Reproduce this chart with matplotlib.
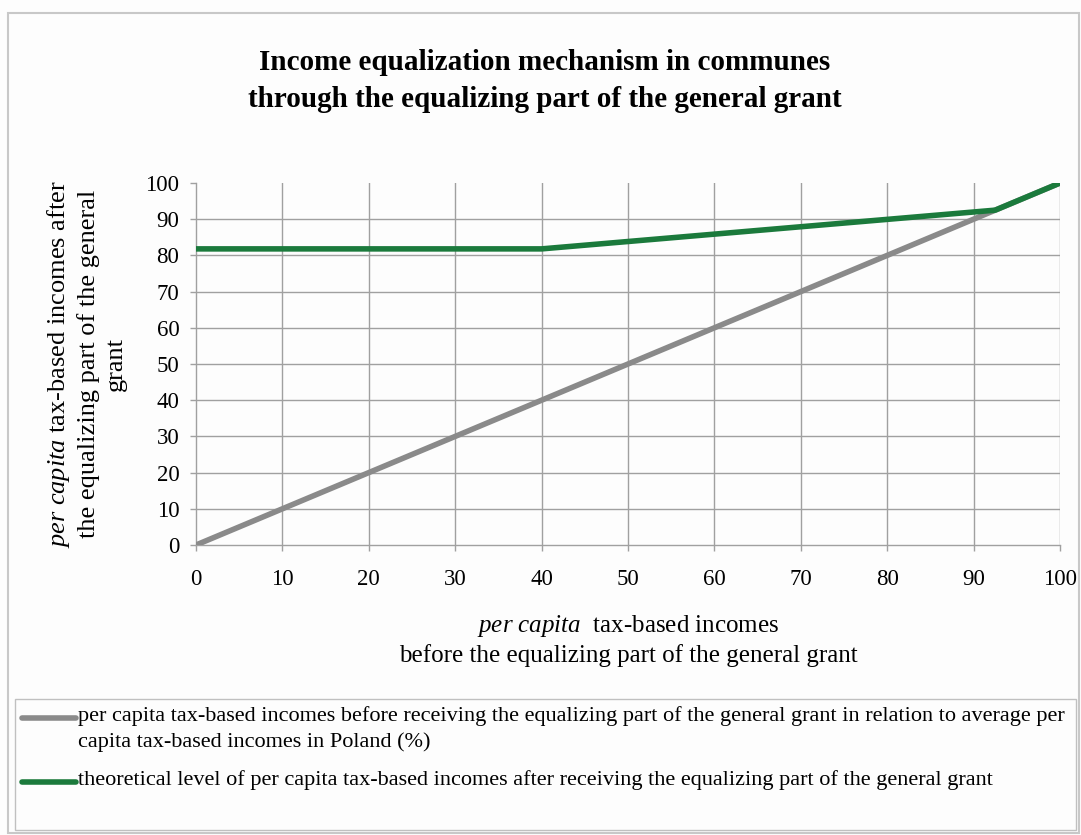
import matplotlib
matplotlib.use("Agg")
import matplotlib.pyplot as plt
from matplotlib.lines import Line2D
from matplotlib.patches import Rectangle

plt.rcParams['font.family'] = ['Liberation Serif', 'DejaVu Serif']
plt.rcParams['mathtext.fontset'] = 'custom'
plt.rcParams['mathtext.rm'] = 'Liberation Serif'
plt.rcParams['mathtext.it'] = 'Liberation Serif:italic'

# data (% of average per capita tax-based incomes)
before_x = [0, 10, 20, 30, 40, 50, 60, 70, 80, 90, 100]
before_y = [0, 10, 20, 30, 40, 50, 60, 70, 80, 90, 100]
after_x = [0, 40, 92.5, 100]
after_y = [81.8, 81.8, 92.5, 100]

x_ticks = list(range(0, 101, 10))
y_ticks = list(range(0, 101, 10))

title = ("Income equalization mechanism in communes\n"
         "through the equalizing part of the general grant")
ylabel = ("$\\mathit{per\\ capita}$ tax-based incomes after\n"
          "the equalizing part of the general\ngrant")
xlabel = "$\\mathit{per\\ capita}$  tax-based incomes\nbefore the equalizing part of the general grant"
legend_labels = [
    "per capita tax-based incomes before receiving the equalizing part of the general grant in relation to average per\n"
    "capita tax-based incomes in Poland (%)",
    "theoretical level of per capita tax-based incomes after receiving the equalizing part of the general grant",
]

gray = '#8a8a8a'
green = '#1b7a3c'
grid_col = '#a0a0a0'

W, H = 1081, 835
fig = plt.figure(figsize=(W / 100, H / 100), dpi=100)
fig.patch.set_facecolor('#fdfdfd')


def fx(px):
    return px / W


def fy(py):
    return 1 - py / H


ax = fig.add_axes([fx(196), fy(545), fx(1060) - fx(196), fy(183) - fy(545)])
ax.set_facecolor('#fdfdfd')

ax.plot(before_x, before_y, color=gray, lw=4, solid_capstyle='butt', zorder=3)
ax.plot(after_x, after_y, color=green, lw=4, solid_capstyle='butt', zorder=4)

ax.set_xlim(0, 100)
ax.set_ylim(0, 100)
ax.set_xticks(x_ticks)
ax.set_yticks(y_ticks)
for v in y_ticks[1:-1]:
    ax.axhline(v, color=grid_col, lw=1, zorder=1)
for v in x_ticks[1:]:
    ax.axvline(v, color=grid_col, lw=1, zorder=1)

for s in ['top', 'right']:
    ax.spines[s].set_visible(False)
for s in ['left', 'bottom']:
    ax.spines[s].set_color(grid_col)
    ax.spines[s].set_linewidth(1)
ax.tick_params(axis='both', color=grid_col, length=4, width=1, labelsize=16.5)
ax.tick_params(axis='x', pad=13)
ax.tick_params(axis='y', pad=8)

fig.text(fx(545), fy(81), title, ha='center', va='center', fontsize=21,
         fontweight='bold', linespacing=1.45)
fig.text(fx(86), fy(364), ylabel, ha='center', va='center', rotation=90,
         multialignment='center', fontsize=19, linespacing=1.3)
fig.text(fx(628), fy(640), xlabel, ha='center', va='center',
         multialignment='center', fontsize=18, linespacing=1.3)

# outer frame and legend box
fig.add_artist(Rectangle((fx(8), fy(833)), fx(1079) - fx(8), fy(13) - fy(833),
                         transform=fig.transFigure, fill=False, ec='#c8c8c8', lw=1.5))
fig.add_artist(Rectangle((fx(15), fy(830)), fx(1076) - fx(15), fy(699) - fy(830),
                         transform=fig.transFigure, fill=False, ec='#c0c0c0', lw=1))

for label, col, ypx in zip(legend_labels, [gray, green], [718, 782]):
    fig.add_artist(Line2D([fx(22), fx(76)], [fy(ypx), fy(ypx)], transform=fig.transFigure,
                          color=col, lw=4, solid_capstyle='round'))
    fig.text(fx(78), fy(ypx - 12), label, ha='left', va='top', fontsize=16,
             linespacing=1.4)

fig.savefig('out.png', dpi=100, facecolor=fig.get_facecolor())
